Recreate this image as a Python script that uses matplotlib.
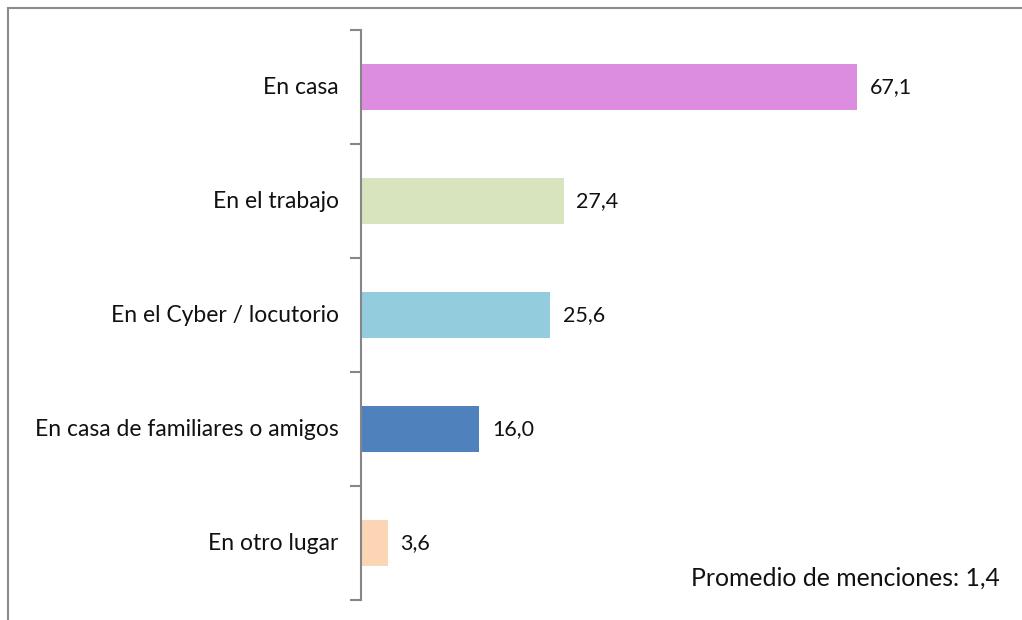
import matplotlib.pyplot as plt
from matplotlib.lines import Line2D

plt.rcParams['font.family'] = ['Lato', 'DejaVu Sans']

categorias = ['En casa', 'En el trabajo', 'En el Cyber / locutorio',
              'En casa de familiares o amigos', 'En otro lugar']
valores = [67.1, 27.4, 25.6, 16.0, 3.6]
colores = ['#DD8DE0', '#D7E4BD', '#93CDDD', '#4F81BD', '#FCD5B5']

fig = plt.figure(figsize=(10.22, 6.2), dpi=100)
ax = fig.add_axes([361 / 1022, 20 / 620, 639 / 1022, 570 / 620])

pos = list(range(len(categorias)))
bars = ax.barh(pos, valores, height=0.4, color=colores)
ax.set_ylim(len(categorias) - 0.5, -0.5)
ax.set_xlim(0, 86.4)

for b, v in zip(bars, valores):
    ax.annotate(f'{v:.1f}'.replace('.', ','),
                xy=(b.get_width(), b.get_y() + b.get_height() / 2),
                xytext=(9, 0), textcoords='offset points',
                ha='left', va='center', fontsize=15.5, color='#111111')

# marco y eje
for s in ['top', 'right', 'bottom']:
    ax.spines[s].set_visible(False)
ax.spines['left'].set_color('#868686')
ax.spines['left'].set_linewidth(1.5)
ax.set_xticks([])
ax.set_yticks([p - 0.5 for p in pos] + [len(categorias) - 0.5])
ax.set_yticklabels([])
ax.tick_params(axis='y', length=8, width=1.5, color='#868686', direction='out')
for p, c in zip(pos, categorias):
    ax.text(-0.035, p, c, transform=ax.get_yaxis_transform(),
            ha='right', va='center', fontsize=16.5, color='#111111')

fig.text(1000 / 1022, 42 / 620, 'Promedio de menciones: 1,4',
         ha='right', va='center', fontsize=17.8, color='#111111')

fig.add_artist(Line2D([8 / 1022, 8 / 1022], [0, 1 - 8 / 620],
                      transform=fig.transFigure, color='#8C8C8C', lw=1.5))
fig.add_artist(Line2D([8 / 1022, 1], [1 - 8 / 620, 1 - 8 / 620],
                      transform=fig.transFigure, color='#8C8C8C', lw=1.5))

fig.savefig('out.png', dpi=100)
